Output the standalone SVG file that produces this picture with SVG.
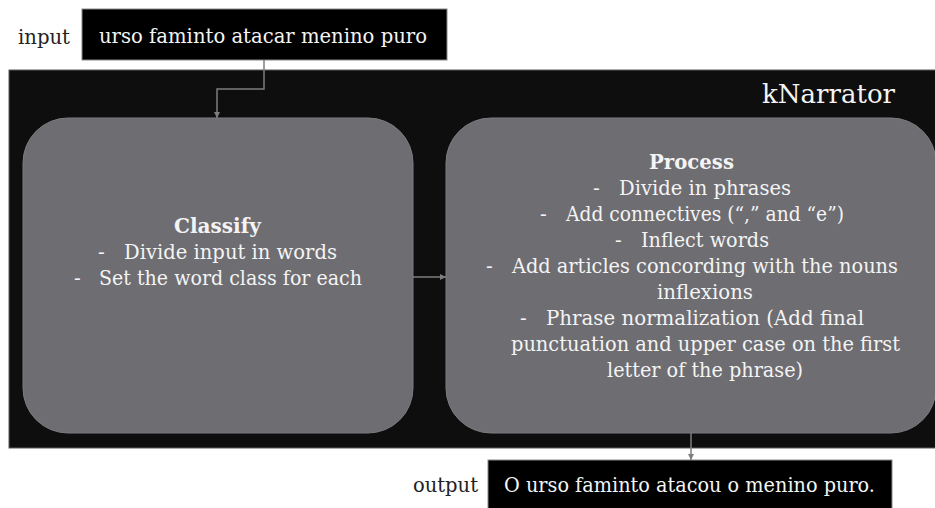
<svg xmlns="http://www.w3.org/2000/svg" width="935" height="508" viewBox="0 0 935 508">
<defs>
<style>
text{font-family:"DejaVu Serif","Liberation Serif",serif;font-size:20px}
.w{fill:#f4f4f4}
.b{fill:#222}
.bold{font-weight:bold}
.node{fill:#6e6d72;stroke:#7c7b80;stroke-width:1}
.box{fill:#000;stroke:#888;stroke-width:1}
.conn{fill:none;stroke:#7e7e7e;stroke-width:1.5}
</style>
<marker id="arr" viewBox="0 0 10 10" refX="10" refY="5" markerWidth="6" markerHeight="6" markerUnits="userSpaceOnUse" orient="auto">
<path d="M0,0 L10,5 L0,10 z" fill="#7e7e7e"/>
</marker>
</defs>
<rect width="935" height="508" fill="#fff"/>
<g id="system">
<rect x="9" y="70" width="935" height="378" fill="#0e0e0e" stroke="#5a5a5a" stroke-width="1"/>
<text class="w" x="762" y="103" textLength="133" lengthAdjust="spacingAndGlyphs" style="font-size:26px">kNarrator</text>
</g>
<g id="input">
<text class="b" x="18" y="44" textLength="52" lengthAdjust="spacingAndGlyphs">input</text>
<rect class="box" x="82" y="9" width="365" height="51"/>
<text class="w" x="99" y="43" textLength="328" lengthAdjust="spacingAndGlyphs">urso faminto atacar menino puro</text>
</g>
<g id="classify">
<rect class="node" x="23" y="118" width="390" height="315" rx="45" ry="45"/>
<text class="w bold" x="174" y="233" textLength="87" lengthAdjust="spacingAndGlyphs">Classify</text>
<text class="w" x="98" y="259">-</text>
<text class="w" x="124" y="259" textLength="213" lengthAdjust="spacingAndGlyphs">Divide input in words</text>
<text class="w" x="74" y="285">-</text>
<text class="w" x="99" y="285" textLength="263" lengthAdjust="spacingAndGlyphs">Set the word class for each</text>
</g>
<g id="process">
<rect class="node" x="446" y="118" width="490" height="315" rx="45" ry="45"/>
<text class="w bold" x="649" y="169" textLength="85" lengthAdjust="spacingAndGlyphs">Process</text>
<text class="w" x="593" y="195">-</text>
<text class="w" x="619" y="195" textLength="172" lengthAdjust="spacingAndGlyphs">Divide in phrases</text>
<text class="w" x="540" y="221">-</text>
<text class="w" x="566" y="221" textLength="278" lengthAdjust="spacingAndGlyphs">Add connectives (“,” and “e”)</text>
<text class="w" x="615" y="247">-</text>
<text class="w" x="641" y="247" textLength="128" lengthAdjust="spacingAndGlyphs">Inflect words</text>
<text class="w" x="486" y="273">-</text>
<text class="w" x="512" y="273" textLength="386" lengthAdjust="spacingAndGlyphs">Add articles concording with the nouns</text>
<text class="w" x="657" y="299" textLength="96" lengthAdjust="spacingAndGlyphs">inflexions</text>
<text class="w" x="520" y="325">-</text>
<text class="w" x="546" y="325" textLength="318" lengthAdjust="spacingAndGlyphs">Phrase normalization (Add final</text>
<text class="w" x="511" y="351" textLength="389" lengthAdjust="spacingAndGlyphs">punctuation and upper case on the first</text>
<text class="w" x="607" y="377" textLength="196" lengthAdjust="spacingAndGlyphs">letter of the phrase)</text>
</g>
<g id="output">
<text class="b" x="413" y="492" textLength="65" lengthAdjust="spacingAndGlyphs">output</text>
<rect class="box" x="488" y="460" width="404" height="60"/>
<text class="w" x="504" y="492" textLength="371" lengthAdjust="spacingAndGlyphs">O urso faminto atacou o menino puro.</text>
</g>
<g id="connectors">
<path class="conn" d="M264,60 V89 H217 V118" marker-end="url(#arr)"/>
<path class="conn" d="M413,277 H446" marker-end="url(#arr)"/>
<path class="conn" d="M691,433 V460" marker-end="url(#arr)"/>
</g>
</svg>
